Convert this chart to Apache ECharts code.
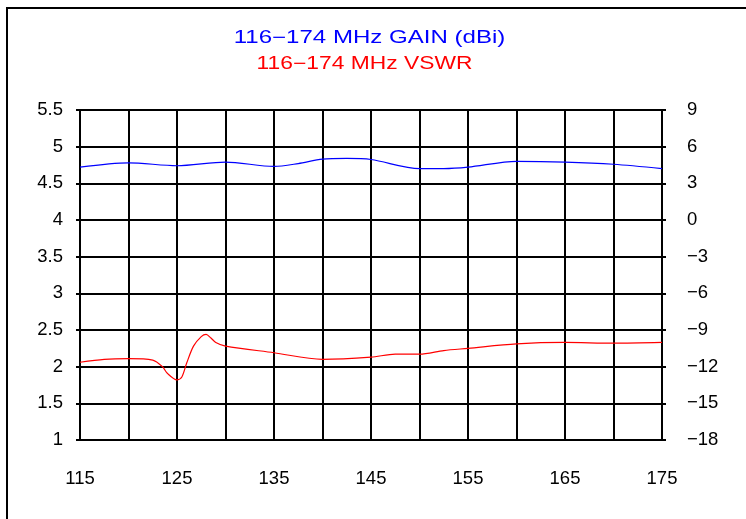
<!DOCTYPE html>
<html><head><meta charset="utf-8">
<script src="https://cdn.jsdelivr.net/npm/echarts@6/dist/echarts.min.js"></script>
<style>html,body{margin:0;padding:0;background:#fff}#c{width:746px;height:519px}</style>
</head><body><div id="c"></div>
<script>
var titleGain = '116\u2212174 MHz GAIN (dBi)';
var titleVswr = '116\u2212174 MHz VSWR';
var gainFreq = [115,120,125,130,135,137.5,140,142.5,145,150,152.5,155,160,165,170,175];
var gainDbi  = [4.32,4.68,4.44,4.74,4.38,4.62,4.98,5.04,4.95,4.2,4.2,4.32,4.8,4.74,4.56,4.2];
var vswrFreq = [115,117.5,120,122.5,123.5,124,125,125.5,126,126.7,127.5,128,128.5,129,130,135,140,145,147.5,150,152.5,155,160,165,170,175];
var vswrVal  = [2.06,2.10,2.11,2.09,2.00,1.91,1.82,1.86,2.05,2.28,2.41,2.44,2.39,2.33,2.28,2.19,2.10,2.13,2.17,2.17,2.22,2.25,2.31,2.33,2.32,2.33];
var xTickLabels = [115,125,135,145,155,165,175];

function pairs(xs, ys){ return xs.map(function(x,i){ return [x, ys[i]]; }); }
var lbl = {color:'#000', fontFamily:'Liberation Sans, Arial, sans-serif', fontSize:18.5};
var chart = echarts.init(document.getElementById('c'), null, {renderer:'canvas'});
chart.setOption({
  animation:false,
  backgroundColor:'#fff',
  graphic:[
    {type:'rect', shape:{x:7,y:8,width:800,height:560}, style:{fill:null, stroke:'#000', lineWidth:2}, z:-1},
    {type:'text', x:369.5, y:38, scaleX:1.36,
      style:{text:titleGain, fill:'#0000ff', font:'17.7px "Liberation Sans", Arial, sans-serif', textAlign:'center', textVerticalAlign:'middle'}},
    {type:'text', x:364.5, y:64, scaleX:1.29,
      style:{text:titleVswr, fill:'#ff0000', font:'17.7px "Liberation Sans", Arial, sans-serif', textAlign:'center', textVerticalAlign:'middle'}}
  ],
  grid:{left:80, top:110, width:582, height:330, containLabel:false},
  xAxis:{type:'value', min:115, max:175, interval:5,
    axisLine:{show:true, lineStyle:{color:'#000', width:2}},
    axisTick:{show:true, length:4, lineStyle:{color:'#000', width:2}},
    splitLine:{show:true, lineStyle:{color:'#000', width:2}},
    axisLabel:Object.assign({margin:29, formatter:function(v){ return xTickLabels.indexOf(v)>=0 ? String(v) : ''; }}, lbl)
  },
  yAxis:[
    {type:'value', min:1, max:5.5, interval:0.5, position:'left',
      axisLine:{show:true, lineStyle:{color:'#000', width:2}},
      axisTick:{show:true, length:4, lineStyle:{color:'#000', width:2}},
      splitLine:{show:true, lineStyle:{color:'#000', width:2}},
      axisLabel:Object.assign({margin:17}, lbl)
    },
    {type:'value', min:-18, max:9, interval:3, position:'right',
      axisLine:{show:true, lineStyle:{color:'#000', width:2}},
      axisTick:{show:true, length:4, lineStyle:{color:'#000', width:2}},
      splitLine:{show:false},
      axisLabel:Object.assign({margin:25, formatter:function(v){ return v<0 ? '\u2212'+Math.abs(v) : String(v); }}, lbl)
    }
  ],
  series:[
    {type:'line', name:'VSWR', yAxisIndex:0, data:pairs(vswrFreq, vswrVal), smooth:0.3, showSymbol:false,
      lineStyle:{color:'#ff0000', width:1.2}, z:5},
    {type:'line', name:'Gain', yAxisIndex:1, data:pairs(gainFreq, gainDbi), smooth:0.3, showSymbol:false,
      lineStyle:{color:'#0000ff', width:1.2}, z:5}
  ]
});
</script></body></html>
